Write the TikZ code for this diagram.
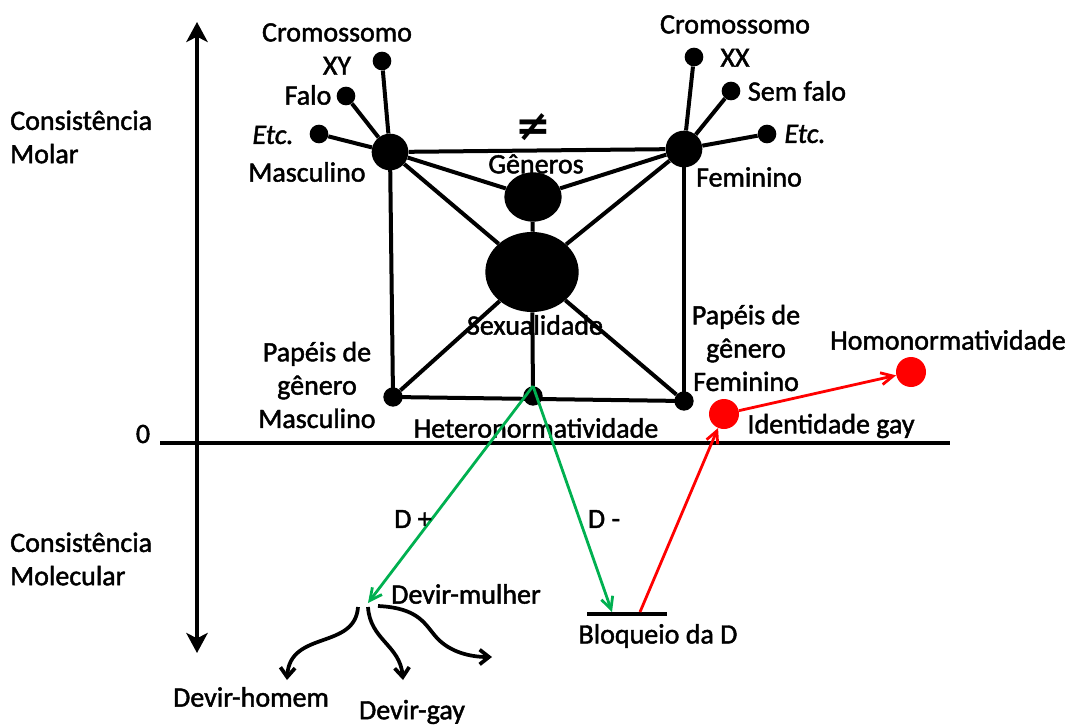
\documentclass[tikz,border=0pt]{standalone}
\usepackage{fontspec}
\setmainfont{Carlito}[FakeBold=1.6]
\newfontfamily\symfont{DejaVu Sans}
\usetikzlibrary{arrows.meta,shapes.geometric}

\definecolor{dgreen}{RGB}{0,176,80}
\definecolor{dred}{RGB}{255,0,0}

\begin{document}
\begin{tikzpicture}[x=0.75pt,y=-0.75pt,
  txt/.style={inner sep=0pt, align=center, font=\fontsize{21}{25}\selectfont},
  bigdot/.style={circle, fill=black, inner sep=0pt, minimum size=27.5pt},
  smalldot/.style={circle, fill=black, inner sep=0pt, minimum size=14pt},
  middot/.style={circle, fill=black, inner sep=0pt, minimum size=14.5pt},
  reddot/.style={circle, fill=dred, inner sep=0pt, minimum size=22.5pt},
  link/.style={line width=3pt},
  axis/.style={line width=3.7pt},
  greenarrow/.style={draw=dgreen, line width=2.1pt, -{Straight Barb[length=9pt,width=9pt,line width=2.1pt]}},
  redarrow/.style={draw=dred, line width=2.1pt, -{Straight Barb[length=9pt,width=9pt,line width=2.1pt]}},
  devirarrow/.style={line width=2.8pt, -{Straight Barb[length=7pt,width=11pt,line width=2.8pt]}}
]
\useasboundingbox (0,0) rectangle (1069,727);

% axes
\coordinate (vtop) at (197,22);
\coordinate (vbot) at (197,653);
\coordinate (hl) at (160,443);
\coordinate (hr) at (950,443);
\draw[axis, {Stealth[length=15pt,width=16pt,inset=4pt]}-{Stealth[length=15pt,width=16pt,inset=4pt]}] (vtop) -- (vbot);
\draw[line width=3.4pt] (hl) -- (hr);
\node[txt] (zero) at (143,434) {0};
\node[txt, anchor=west, align=left] (molar) at (10,137) {Consistência\\Molar};
\node[txt, anchor=west, align=left] (molec) at (10,559) {Consistência\\Molecular};

% molar square
\node[bigdot] (masc) at (390,152) {};
\node[bigdot] (fem) at (684,149) {};
\node[middot] (bl) at (393,397) {};
\node[middot] (bm) at (533,396) {};
\node[middot] (br) at (684,401) {};
\node[ellipse, fill=black, inner sep=0pt, minimum width=43pt, minimum height=37pt] (gen) at (533,197) {};
\node[ellipse, fill=black, inner sep=0pt, minimum width=70pt, minimum height=60pt] (sex) at (532,272) {};

\draw[link] (masc) -- (fem);
\draw[link] (masc.center) -- (bl.center);
\draw[link] (fem.center) -- (br.center);
\draw[link] (bl.center) -- (br.center);
\draw[link] (masc) -- (gen);
\draw[link] (fem) -- (gen);
\draw[link] (masc) -- (sex);
\draw[link] (fem) -- (sex);
\draw[link] (gen) -- (sex);
\draw[link] (sex) -- (bl);
\draw[link] (sex) -- (br);
\draw[link] (sex) -- (bm);

% attributes of the masculine pole
\node[smalldot] (xy) at (382,61) {};
\node[smalldot] (falo) at (346,96) {};
\node[smalldot] (etcl) at (319,134) {};
\draw[link] (masc) -- (xy);
\draw[link] (masc) -- (falo);
\draw[link] (masc) -- (etcl);

% attributes of the feminine pole
\node[smalldot] (xx) at (694,57) {};
\node[smalldot] (semfalo) at (731,91) {};
\node[smalldot] (etcr) at (767,134) {};
\draw[link] (fem) -- (xx);
\draw[link] (fem) -- (semfalo);
\draw[link] (fem) -- (etcr);

% labels of the molar plane
\node[txt] (crxy) at (337,49) {Cromossomo\\XY};
\node[txt] (lfalo) at (308,95) {Falo};
\node[txt] (letcl) at (273,135) {\itshape Etc.};
\node[txt] (lmasc) at (307,172) {Masculino};
\node[txt] (crxx) at (735,41) {Cromossomo\\XX};
\node[txt] (lsemfalo) at (797,91) {Sem falo};
\node[txt] (letcr) at (805,134) {\itshape Etc.};
\node[txt] (lfem) at (749,177) {Feminino};
\node[txt] (neq) at (533,127) {\symfont\bfseries\fontsize{32}{32}\selectfont ≠};
\node[txt] (lgen) at (536,164) {Gêneros};
\node[txt] (lsex) at (535,325) {Sexualidade};
\node[txt] (lpm) at (317,385) {Papéis de\\gênero\\Masculino};
\node[txt] (lpf) at (746,348) {Papéis de\\gênero\\Feminino};
\node[txt] (lhet) at (536,428) {Heteronormatividade};

% gay identity and homonormativity
\node[reddot] (idgay) at (724,414) {};
\node[reddot] (homo) at (911,372) {};
\node[txt] (lidgay) at (831,426) {Identidade gay};
\node[txt] (lhomo) at (948,340) {Homonormatividade};

% block of desire
\coordinate (bq1) at (587,614);
\coordinate (bq2) at (667,614);
\coordinate (bqin) at (612,612);
\coordinate (bqout) at (640,612);
\draw[line width=3.2pt] (bq1) -- (bq2);
\node[txt] (lbq) at (658,636) {Bloqueio da D};

% lines of desire
\coordinate (devir) at (368,603);
\draw[greenarrow] (bm.north) -- (devir);
\draw[greenarrow] (bm.north) -- (bqin);
\node[txt] (dplus) at (413,519) {D +};
\node[txt] (dminus) at (604,519) {D -};
\draw[redarrow] (bqout) -- (idgay);
\draw[redarrow] (idgay) -- (homo);

% becomings
\coordinate (dl) at (358,607);
\coordinate (dm) at (368,607);
\coordinate (dr) at (378,606);
\coordinate (el) at (287,680);
\coordinate (em) at (403,680);
\coordinate (er) at (492,657);
\draw[devirarrow] (dl) .. controls (355,650) and (290,630) .. (el);
\draw[devirarrow] (dm) .. controls (370,640) and (400,645) .. (em);
\draw[devirarrow] (dr) .. controls (420,608) and (425,625) .. (437,638) .. controls (450,652) and (470,657) .. (er);
\node[txt] (lmulher) at (466,594) {Devir-mulher};
\node[txt] (lhomem) at (251,697) {Devir-homem};
\node[txt] (lgay) at (412,712) {Devir-gay};
\end{tikzpicture}
\end{document}
